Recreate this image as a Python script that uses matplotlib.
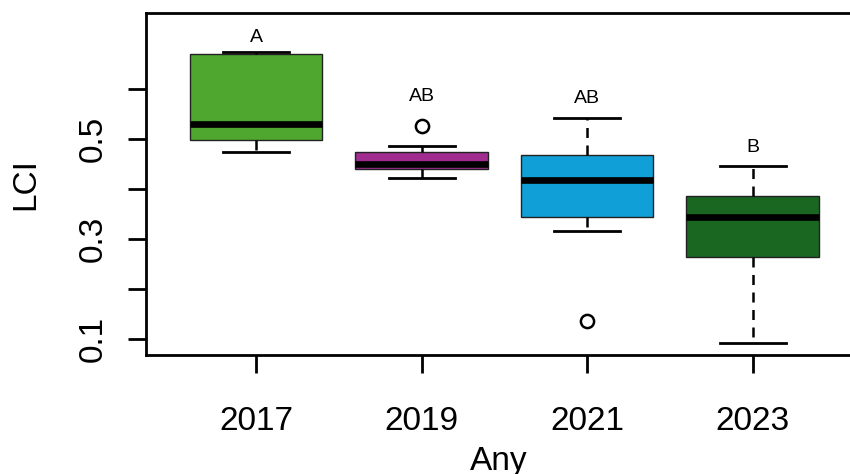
import matplotlib
matplotlib.use("Agg")
import matplotlib.pyplot as plt

# LCI per survey year (box stats)
years = ["2017", "2019", "2021", "2023"]
whislo = [0.473, 0.422, 0.316, 0.092]
q1 = [0.497, 0.440, 0.343, 0.264]
med = [0.530, 0.449, 0.417, 0.344]
q3 = [0.670, 0.473, 0.468, 0.385]
whishi = [0.674, 0.485, 0.541, 0.445]
fliers = [[], [0.525], [0.136], []]
colors = ["#4fa72f", "#a12c90", "#109fd6", "#1a6722"]

# significance letters and their heights
letters = ["A", "AB", "AB", "B"]
letter_y = [0.703, 0.585, 0.580, 0.482]

plt.rcParams["font.family"] = ["Liberation Sans", "DejaVu Sans"]

fig = plt.figure(figsize=(8.5, 4.74), dpi=100)
ax = fig.add_axes([146 / 850, 1 - 355 / 474, (852 - 146) / 850, (355 - 13) / 474])

stats = []
for i in range(len(years)):
    stats.append(dict(whislo=whislo[i], q1=q1[i], med=med[i], q3=q3[i],
                      whishi=whishi[i], fliers=fliers[i]))

pos = [1, 2, 3, 4]
bp = ax.bxp(stats, positions=pos, widths=0.8, patch_artist=True,
            showfliers=True,
            boxprops=dict(linewidth=1.0, edgecolor="#222222"),
            medianprops=dict(color="black", linewidth=4.8, solid_capstyle="butt"),
            whiskerprops=dict(color="black", linewidth=1.8, linestyle=(0, (4, 3))),
            capprops=dict(color="black", linewidth=2.0),
            flierprops=dict(marker="o", markersize=9.5, markerfacecolor="none",
                            markeredgecolor="black", markeredgewidth=1.8))
for cap in bp["caps"]:
    x0, x1 = cap.get_xdata()
    c = (x0 + x1) / 2
    cap.set_xdata([c - 0.2, c + 0.2])
for patch, col in zip(bp["boxes"], colors):
    patch.set_facecolor(col)

for p, t, y in zip(pos, letters, letter_y):
    ax.text(p, y, t, ha="center", va="center", fontsize=14)

ax.set_xlim(0.335, 4.6)
ax.set_ylim(0.068, 0.751)
ax.set_xticks(pos)
ax.set_xticklabels(years, fontsize=24)
ax.set_yticks([0.1, 0.2, 0.3, 0.4, 0.5, 0.6])
ax.set_yticklabels(["0.1", "", "0.3", "", "0.5", ""], fontsize=24,
                   rotation=90, va="center")
ax.tick_params(axis="both", length=13, width=2, direction="out")
ax.tick_params(axis="x", pad=24)
ax.tick_params(axis="y", pad=14)
for s in ax.spines.values():
    s.set_linewidth(2)

ax.set_ylabel("LCI", fontsize=24, labelpad=26)
ax.set_xlabel("Any", fontsize=24, labelpad=6)

fig.savefig("out.png", dpi=100)
